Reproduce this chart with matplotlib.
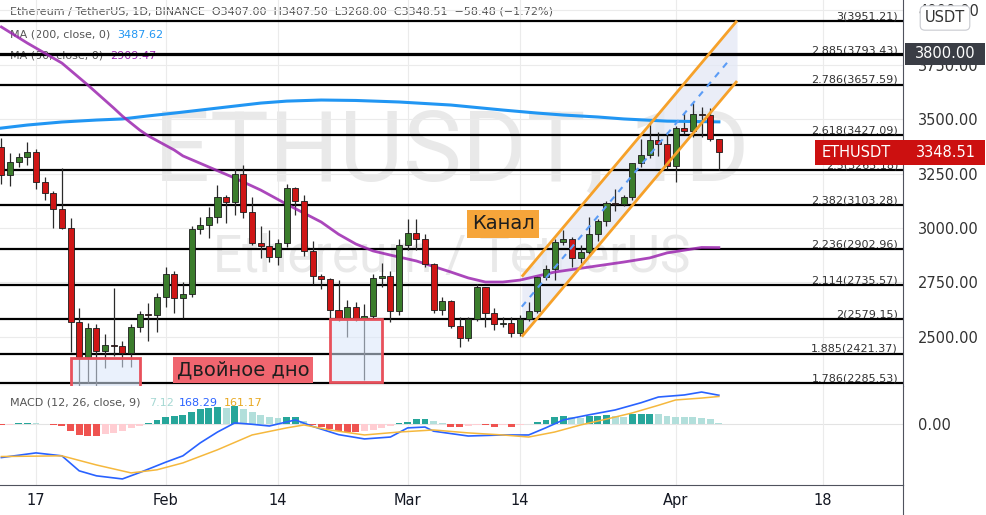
import matplotlib.pyplot as plt
import matplotlib.patches as patches
import numpy as np
import pandas as pd

plt.rcParams["font.family"] = ["DejaVu Sans"]

# daily candles ETH/USDT, 13 Jan - 6 Apr
dates = pd.date_range("2022-01-13", "2022-04-06", freq="D")
opens = [3372, 3243, 3303, 3326, 3349, 3211, 3160, 3087, 3000, 2567,
         2406, 2540, 2434, 2462, 2457, 2425, 2544, 2604, 2600, 2682,
         2788, 2677, 2696, 2995, 3013, 3050, 3142, 3119, 3248, 3073,
         2931, 2917, 2866, 2931, 3183, 3124, 2894, 2779, 2765, 2623,
         2584, 2637, 2584, 2597, 2770, 2780, 2618, 2921, 2978, 2948,
         2834, 2622, 2663, 2550, 2492, 2580, 2728, 2610, 2559, 2564,
         2515, 2580, 2618, 2774, 2811, 2937, 2948, 2861, 2888, 2970,
         3033, 3113, 3110, 3144, 3297, 3335, 3404, 3384, 3284, 3458,
         3446, 3522, 3520, 3407]
highs = [3415, 3344, 3344, 3395, 3362, 3234, 3170, 3275, 3045, 2630,
         2562, 2560, 2510, 2724, 2480, 2560, 2620, 2655, 2700, 2820,
         2800, 2751, 3010, 3050, 3096, 3197, 3150, 3270, 3289, 3142,
         3010, 2990, 2950, 3200, 3190, 3150, 2940, 2790, 2770, 2760,
         2668, 2660, 2650, 2790, 2838, 2800, 2950, 3040, 3040, 2970,
         2840, 2680, 2670, 2590, 2590, 2740, 2730, 2630, 2590, 2590,
         2600, 2660, 2780, 2830, 2950, 2990, 2960, 2920, 3050, 3040,
         3125, 3180, 3150, 3300, 3410, 3480, 3440, 3440, 3470, 3530,
         3575, 3555, 3550, 3407.5]
lows = [3200, 3193, 3280, 3290, 3180, 3128, 3000, 2995, 2430, 2160,
        2287, 2160, 2356, 2410, 2360, 2360, 2520, 2480, 2520, 2636,
        2610, 2586, 2680, 2970, 2953, 3022, 3022, 3059, 3046, 2921,
        2860, 2843, 2830, 2910, 3060, 2870, 2740, 2720, 2580, 2570,
        2498, 2570, 2300, 2580, 2728, 2567, 2600, 2900, 2900, 2820,
        2610, 2600, 2540, 2452, 2480, 2570, 2545, 2530, 2545, 2500,
        2505, 2570, 2610, 2760, 2760, 2920, 2820, 2840, 2880, 2940,
        3010, 3080, 3100, 3130, 3280, 3320, 3330, 3270, 3212, 3430,
        3420, 3418, 3400, 3268]
closes = [3243, 3303, 3326, 3349, 3211, 3160, 3087, 3000, 2567, 2406,
          2540, 2434, 2462, 2457, 2425, 2544, 2604, 2600, 2682, 2788,
          2677, 2696, 2995, 3013, 3050, 3142, 3119, 3248, 3073, 2931,
          2917, 2866, 2931, 3183, 3124, 2894, 2779, 2765, 2623, 2584,
          2637, 2584, 2597, 2770, 2780, 2618, 2921, 2978, 2948, 2834,
          2622, 2663, 2550, 2492, 2580, 2728, 2610, 2559, 2564, 2515,
          2580, 2618, 2774, 2811, 2937, 2948, 2861, 2888, 2970, 3033,
          3113, 3110, 3144, 3297, 3335, 3404, 3384, 3284, 3458, 3446,
          3522, 3520, 3407, 3348.51]

# moving averages (read at some candles)
ma50_idx = [0, 3, 6, 7, 10, 13, 14, 16, 17, 20, 21, 24, 27, 30, 33, 35, 37, 39, 41, 43,
            45, 48, 52, 54, 56, 58, 60, 64, 68, 72, 75, 77, 81, 83]
ma50_val = [3924, 3850, 3781, 3758, 3657, 3551, 3514, 3450, 3423, 3358, 3331, 3280, 3229,
            3174, 3109, 3068, 3027, 2971, 2926, 2894, 2875, 2848, 2797, 2770, 2751, 2751,
            2760, 2797, 2820, 2843, 2862, 2885, 2910, 2909.47]
ma200_idx = [0, 3, 7, 11, 14, 17, 20, 25, 30, 33, 37, 41, 46, 52, 58, 62, 65, 69, 72, 77, 83]
ma200_val = [3459, 3473, 3487, 3496, 3501, 3515, 3528, 3551, 3574, 3583, 3588, 3586, 3579,
             3565, 3542, 3528, 3519, 3510, 3501, 3491, 3487.62]

# MACD (12, 26, 9)
macd_idx = [0, 4, 7, 9, 11, 14, 16, 19, 21, 23, 25, 27, 29, 31, 34, 36, 39, 42, 45, 47, 49, 50,
            54, 58, 61, 63, 65, 68, 71, 74, 76, 79, 81, 83]
macd_val = [-193, -166, -183, -270, -299, -317, -280, -220, -183, -108, -45, 8, 0, -10, 25, -12,
            -60, -85, -74, -21, -16, -40, -68, -62, -62, -20, 25, 55, 83, 125, 158, 170, 187, 168.29]
signal_idx = [0, 7, 11, 15, 18, 21, 25, 29, 33, 35, 38, 42, 46, 50, 54, 58, 61, 64, 67, 70,
              73, 76, 78, 81, 83]
signal_val = [-187, -183, -236, -282, -264, -224, -148, -62, -21, -4, -33, -62, -45, -33,
              -50, -62, -74, -45, -4, 30, 66, 110, 141, 152, 161.17]
hist = [-6, -2, 8, 10, 5, 3, -2, -10, -38, -62,
        -66, -67, -58, -52, -38, -24, -10, 10, 25, 40,
        48, 54, 70, 89, 97, 100, 97, 108, 89, 73,
        54, 40, 35, 40, 44, 19, -5, -18, -28, -38,
        -42, -43, -38, -32, -20, -10, 6, 12, 28, 30,
        20, 8, -15, -17, -10, -4, -5, -15, -5, -15,
        -3, 3, 15, 25, 44, 50, 44, 35, 48, 50,
        54, 50, 44, 58, 60, 61, 58, 48, 44, 42,
        40, 38, 30, 7.12]

# fibonacci extension levels
fib_levels = ["3", "2.885", "2.786", "2.618", "2.5", "2.382", "2.236", "2.114", "2", "1.885", "1.786"]
fib_prices = [3951.21, 3793.43, 3657.59, 3427.09, 3265.18, 3103.28, 2902.96, 2735.57, 2579.15, 2421.37, 2285.53]
level_line = 3800

# drawings
channel_x = [60.2, 85.1]
channel_low = [2499.7, 3675.4]
channel_high = [2775.6, 3952.6]
box1_x, box1_y = [8.06, 16.04], [2240, 2402]
box2_x, box2_y = [38.0, 44.05], [2291.5, 2581]

price_ticks = [2500, 2750, 3000, 3250, 3500, 3750, 4000]
date_ticks = ["2022-01-17", "2022-02-01", "2022-02-14", "2022-03-01", "2022-03-14", "2022-04-01", "2022-04-18"]
date_labels = ["17", "Feb", "14", "Mar", "14", "Apr", "18"]

GREEN = "#3b7d2c"
RED = "#cf1616"
AXC = "#50535e"
TXT = "#333333"

fig = plt.figure(figsize=(9.87, 5.15), dpi=100)
ax = fig.add_axes([0, 0.2505, 0.9149, 0.7495])
axm = fig.add_axes([0, 0.0583, 0.9149, 0.1922], sharex=ax)

x = np.arange(len(dates))
o, h, l, c = map(np.array, (opens, highs, lows, closes))

# watermark
ax.text(0.5, 1 - 180 / 386, "ETHUSDT, 1D", transform=ax.transAxes, ha="center", va="baseline",
        fontsize=71, family="Roboto", color="#e9e9e9", zorder=0.5)
ax.text(0.5, 1 - 272 / 386, "Ethereum / TetherUS", transform=ax.transAxes, ha="center", va="baseline",
        fontsize=37, family="Roboto", color="#e9e9e9", zorder=0.5)

# headers (under the lines)
ax.text(10 / 903, 1 - 12 / 386,
        "Ethereum / TetherUS, 1D, BINANCE  O3407.00  H3407.50  L3268.00  C3348.51  \u221258.48 (\u22121.72%)",
        transform=ax.transAxes, va="center", fontsize=8, color="#555555", zorder=1)
t = ax.text(10 / 903, 1 - 35 / 386, "MA (200, close, 0)", transform=ax.transAxes, va="center",
            fontsize=8, color="#555555", zorder=1)
ax.annotate("%.2f" % ma200_val[-1], xy=(1, 0.5), xycoords=t, xytext=(5, 0), textcoords="offset points",
            va="center", fontsize=8, color="#2196f3", zorder=1)
t = ax.text(10 / 903, 1 - 56 / 386, "MA (50, close, 0)", transform=ax.transAxes, va="center",
            fontsize=8, color="#555555", zorder=1)
ax.annotate("%.2f" % ma50_val[-1], xy=(1, 0.5), xycoords=t, xytext=(5, 0), textcoords="offset points",
            va="center", fontsize=8, color="#9c27b0", zorder=1)

# channel
ax.fill_between(channel_x, channel_low, channel_high, color="#e3e8f5", alpha=0.75, lw=0, zorder=1.8)
ax.plot(channel_x, channel_high, color="#f6a12a", lw=2, zorder=5, solid_capstyle="butt")
ax.plot(channel_x, channel_low, color="#f6a12a", lw=2, zorder=5, solid_capstyle="butt")
mid = [(a + b) / 2 for a, b in zip(channel_low, channel_high)]
mid_end = channel_x[1] - 0.8
ax.plot([channel_x[0], mid_end],
        [mid[0], mid[0] + (mid[1] - mid[0]) * (mid_end - channel_x[0]) / (channel_x[1] - channel_x[0])],
        color="#5b9cf6", lw=1.5, ls=(0, (3, 3)), zorder=5)

# fib lines + labels
for lev, p in zip(fib_levels, fib_prices):
    ax.axhline(p, color="black", lw=1.6, zorder=2)
    ax.text(898 / 903, p, "%s(%.2f)" % (lev, p), transform=ax.get_yaxis_transform(), ha="right",
            va="bottom", fontsize=8, color=TXT, zorder=2)
ax.axhline(level_line, color="black", lw=1.6, zorder=2)

# moving averages
ax.plot(ma200_idx, ma200_val, color="#2196f3", lw=2.2, zorder=3.5)
ax.plot(ma50_idx, ma50_val, color="#9c27b0", lw=2, alpha=0.85, zorder=3.5)

# candles
up = c >= o
ax.vlines(x, l, h, color="#2a2a2a", lw=0.9, zorder=3)
ax.bar(x, np.maximum(np.abs(c - o), 5), bottom=np.minimum(o, c), width=0.7,
       color=np.where(up, GREEN, RED), edgecolor="#1c1c1c", linewidth=0.6, zorder=4)

# double bottom boxes
for bx, by in [(box1_x, box1_y), (box2_x, box2_y)]:
    ax.add_patch(patches.Rectangle((bx[0], by[0]), bx[1] - bx[0], by[1] - by[0],
                                   facecolor=(0.85, 0.9, 0.98, 0.55), edgecolor="#e8505b", lw=2, zorder=5))

ax.text(27.96, 2346, "Двойное дно", ha="center", va="center", fontsize=14, color="#1e1e1e", zorder=6,
        bbox=dict(boxstyle="square,pad=0.18", fc="#f0656f", ec="none"))
ax.text(58.05, 3018, "Канал", ha="center", va="center", fontsize=14, color="#1e1e1e", zorder=6,
        bbox=dict(boxstyle="square,pad=0.25", fc="#f6a53a", ec="none"))

# axes styling
ax.set_xlim(-0.16, 104.3)
ax.set_ylim(2273, 4048)
ax.yaxis.tick_right()
ax.set_yticks(price_ticks)
ax.set_yticklabels(["%.2f" % v for v in price_ticks])
ax.tick_params(axis="y", length=0, pad=11, labelsize=10.5, labelcolor=TXT)
ax.tick_params(axis="x", length=0, labelbottom=False)
pos = [(pd.Timestamp(d) - dates[0]).days for d in date_ticks]
ax.set_xticks(pos)
ax.grid(color="#ebebeb", lw=0.8, zorder=0)
for s in ["top", "left"]:
    ax.spines[s].set_visible(False)
ax.spines["right"].set_color(AXC)
ax.spines["bottom"].set_color("#9598a1")

# price labels on the scale
ytr = ax.get_yaxis_transform()
px_unit = (4048 - 2273) / 386
ax.add_patch(patches.Rectangle((905 / 903, level_line - 11 * px_unit), 80 / 903, 22 * px_unit,
                               transform=ytr, clip_on=False, fc="#3a3d45", ec="none", zorder=20))
ax.text(945 / 903, level_line, "%.2f" % level_line, transform=ytr, ha="center", va="center",
        fontsize=10.5, color="white", clip_on=False, zorder=21)
last = closes[-1]
ax.add_patch(patches.Rectangle((815 / 903, last - 12.5 * px_unit), 170 / 903, 25 * px_unit,
                               transform=ytr, clip_on=False, fc="#cc1010", ec="none", zorder=20))
ax.text(822 / 903, last, "ETHUSDT", transform=ytr, ha="left", va="center", fontsize=10.5,
        color="white", clip_on=False, zorder=21)
ax.text(946 / 903, last, "%.2f" % last, transform=ytr, ha="center", va="center", fontsize=10.5,
        color="white", clip_on=False, zorder=21)
fig.text(945 / 987, 1 - 18 / 515, "USDT", ha="center", va="center", fontsize=10.5, color=TXT,
         bbox=dict(boxstyle="round,pad=0.32", fc="white", ec="#c8cad0", lw=0.8))

# MACD pane
hist_colors = []
prev = 0
for v in hist:
    if v >= 0:
        hist_colors.append("#26a69a" if v >= prev else "#b2dfdb")
    else:
        hist_colors.append("#ef5350" if v < prev else "#ffcdd2")
    prev = v
axm.axhline(0, color="#e3e3e3", lw=0.8, zorder=0.5)
axm.bar(x, hist, width=0.8, color=hist_colors, zorder=2)
axm.plot(macd_idx, macd_val, color="#2962ff", lw=1.2, zorder=3)
axm.plot(signal_idx, signal_val, color="#f5b83d", lw=1.1, zorder=3)
axm.set_ylim(-352, 222)
axm.yaxis.tick_right()
axm.set_yticks([0])
axm.set_yticklabels(["0.00"])
axm.tick_params(axis="y", length=0, pad=11, labelsize=10.5, labelcolor=TXT)
axm.set_xticks(pos)
axm.set_xticklabels(date_labels)
axm.tick_params(axis="x", length=0, pad=6, labelsize=10.5, labelcolor="#131722")
axm.grid(axis="x", color="#ebebeb", lw=0.8, zorder=0)
for s in ["top", "left"]:
    axm.spines[s].set_visible(False)
axm.spines["right"].set_color(AXC)
axm.spines["bottom"].set_color(AXC)

t = axm.text(10 / 903, 1 - 17 / 99, "MACD (12, 26, close, 9)", transform=axm.transAxes, va="center",
             fontsize=8, color="#555555", zorder=4)
t = axm.annotate("%.2f" % hist[-1], xy=(1, 0.5), xycoords=t, xytext=(6, 0), textcoords="offset points",
                 va="center", fontsize=8, color="#a6d8d3", zorder=4)
t = axm.annotate("%.2f" % macd_val[-1], xy=(1, 0.5), xycoords=t, xytext=(4, 0), textcoords="offset points",
                 va="center", fontsize=8, color="#2962ff", zorder=4)
axm.annotate("%.2f" % signal_val[-1], xy=(1, 0.5), xycoords=t, xytext=(4, 0), textcoords="offset points",
             va="center", fontsize=8, color="#e8a820", zorder=4)

# right axis line continues through the date row
fig.add_artist(plt.Line2D([903 / 987, 903 / 987], [0, 0.0583], color=AXC, lw=0.8))

fig.savefig("out.png", dpi=100)
